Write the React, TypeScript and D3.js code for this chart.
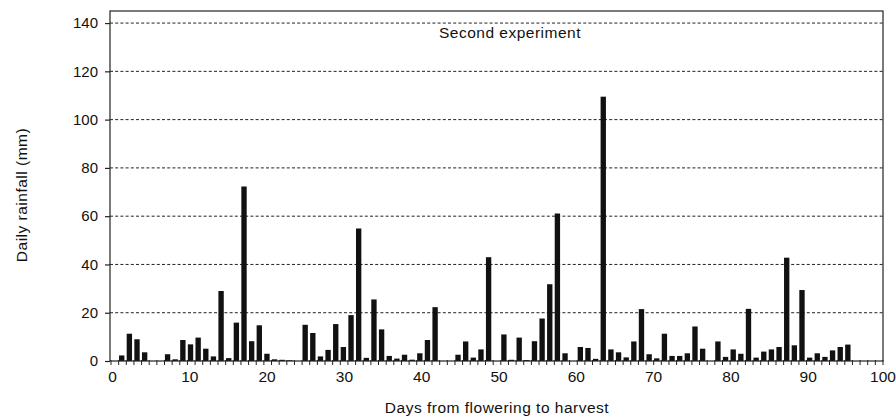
import * as d3 from 'd3';
import React, { useRef, useEffect } from 'react';

// day numbers (from flowering) and the rainfall read for each day
const days = d3.range(1, 97);
const rainfall = [
  2.3, 11.3, 9.0, 3.6, 0, 0, 2.8, 0.7, 8.7, 6.9,
  9.7, 5.1, 1.9, 29, 1.2, 15.9, 72.3, 8.2, 14.8, 3.0,
  0.7, 0.5, 0.3, 0, 15, 11.6, 1.9, 4.6, 15.3, 5.8,
  19, 54.9, 1.3, 25.5, 13.1, 2.1, 1.0, 2.6, 0.55, 3.2,
  8.7, 22.3, 0, 0, 2.6, 8.1, 1.4, 4.8, 43, 0,
  11, 0.5, 9.7, 0.4, 8.2, 17.6, 31.8, 61.1, 3.2, 0,
  5.8, 5.4, 0.9, 109.5, 4.8, 3.6, 1.5, 8.1, 21.5, 2.8,
  1.1, 11.3, 2.1, 2.1, 3.2, 14.3, 5.1, 0, 8.1, 1.7,
  4.8, 3.0, 21.6, 1.4, 3.9, 4.8, 5.8, 42.8, 6.5, 29.4,
  1.4, 3.2, 1.7, 4.4, 5.8, 6.8
];
const yTicks = [0, 20, 40, 60, 80, 100, 120, 140];
const xTicks = [0, 10, 20, 30, 40, 50, 60, 70, 80, 90, 100];

const W = 896;
const H = 417;
const FONT = 'Liberation Sans, Arial, sans-serif';

function RainChart() {
  const ref = useRef<SVGSVGElement>(null);

  useEffect(() => {
    const left = 110, right = 883, top = 11, bottom = 361;

    const svg = d3.select(ref.current);
    svg.selectAll('*').remove();

    const y = d3.scaleLinear().domain([0, 145]).range([bottom, top]);
    // one slot per day, the ticks sit on the slot edges
    const band = d3.scaleBand<number>()
      .domain(d3.range(0, 101))
      .range([left + 1, right]);
    const xLab = d3.scaleLinear().domain([0, 100]).range([112, 885]);

    // dashed grid
    svg.append('g')
      .selectAll('line')
      .data(yTicks.filter(t => t > 0))
      .enter()
      .append('line')
      .attr('x1', left).attr('x2', right)
      .attr('y1', d => y(d)).attr('y2', d => y(d))
      .attr('stroke', '#222')
      .attr('stroke-width', 1)
      .attr('stroke-dasharray', '3,2.2');

    // bars
    svg.append('g')
      .selectAll('rect')
      .data(days)
      .enter()
      .append('rect')
      .attr('x', d => (band(d) as number) + 0.4)
      .attr('width', band.step() * 0.7)
      .attr('y', (d, i) => y(rainfall[i]))
      .attr('height', (d, i) => bottom - y(rainfall[i]))
      .attr('fill', '#111');

    // box
    svg.append('rect')
      .attr('x', left).attr('y', top)
      .attr('width', right - left).attr('height', bottom - top)
      .attr('fill', 'none')
      .attr('stroke', '#222')
      .attr('stroke-width', 1.2);

    // day ticks
    svg.append('g')
      .selectAll('line')
      .data(d3.range(0, 102))
      .enter()
      .append('line')
      .attr('x1', d => (left + 1) + d * band.step())
      .attr('x2', d => (left + 1) + d * band.step())
      .attr('y1', bottom - 1).attr('y2', bottom + 4)
      .attr('stroke', '#222')
      .attr('stroke-width', 1);

    svg.append('g')
      .attr('transform', `translate(${left},0)`)
      .call(d3.axisLeft(y).tickValues(yTicks).tickSize(5).tickPadding(7))
      .call(g => g.select('.domain').remove())
      .call(g => g.selectAll('line').attr('stroke', '#222').attr('stroke-width', 1.2))
      .call(g => g.selectAll('text')
        .attr('font-family', FONT)
        .attr('font-size', 15)
        .attr('fill', '#111'));

    svg.append('g')
      .attr('transform', `translate(0,${bottom})`)
      .call(d3.axisBottom(xLab).tickValues(xTicks).tickSize(0).tickPadding(10))
      .call(g => g.select('.domain').remove())
      .call(g => g.selectAll('text')
        .attr('font-family', 'Liberation Sans Narrow, Liberation Sans, Arial, sans-serif')
        .attr('font-size', 15.5)
        .attr('fill', '#111')
        // keep the last label inside the page
        .attr('dx', (d: any) => (d === 100 ? -2.5 : 0)));

    const label = (x: number, yy: number, txt: string, rot = false) =>
      svg.append('text')
        .attr('transform', rot ? `translate(${x},${yy}) rotate(-90)` : `translate(${x},${yy})`)
        .attr('text-anchor', 'middle')
        .attr('font-family', FONT)
        .attr('font-size', 15.5)
        .attr('letter-spacing', 0.5)
        .attr('fill', '#111')
        .text(txt);

    label(510, 38, 'Second experiment');
    label(27, 195, 'Daily rainfall (mm)', true);
    label(497, 413, 'Days from flowering to harvest');
  });

  return (
    <svg ref={ref} width={W} height={H}
      style={{ position: 'absolute', left: 0, top: 0, background: '#fff' }} />
  );
}

export default function App() {
  return <RainChart />;
}
